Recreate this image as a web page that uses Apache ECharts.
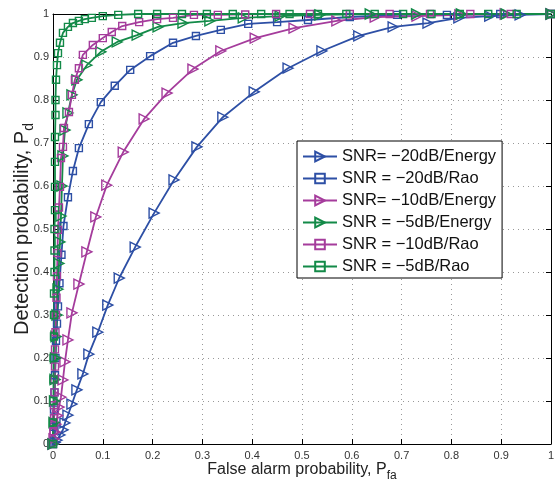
<!DOCTYPE html>
<html><head><meta charset="utf-8">
<script src="https://cdn.jsdelivr.net/npm/echarts@6/dist/echarts.min.js"></script>
<style>html,body{margin:0;padding:0;background:#fff}#c{width:555px;height:486px}</style>
</head><body><div id="c"></div>
<script>
// Tick labels
const xTicks = ['0','0.1','0.2','0.3','0.4','0.5','0.6','0.7','0.8','0.9','1'];
const yTicks = ['0','0.1','0.2','0.3','0.4','0.5','0.6','0.7','0.8','0.9','1'];
const seriesNames = ['SNR= \u221220dB/Energy','SNR = \u221220dB/Rao','SNR= \u221210dB/Energy','SNR = \u22125dB/Energy','SNR = \u221210dB/Rao','SNR = \u22125dB/Rao'];

// -20 dB Energy
const pfaE20 = [0,0.004,0.008,0.014,0.020,0.024,0.030,0.038,0.048,0.060,0.072,0.090,0.110,0.133,0.165,0.203,0.243,0.289,0.341,0.404,0.472,0.540,0.614,0.683,0.753,0.815,0.877,0.938,1.0];
const pdE20  = [0,0.004,0.009,0.021,0.033,0.049,0.067,0.093,0.126,0.163,0.209,0.260,0.323,0.386,0.458,0.537,0.614,0.691,0.760,0.819,0.874,0.914,0.949,0.970,0.979,0.991,0.995,0.998,1.0];
// -20 dB Rao
const pfaR20 = [0,0.001,0.002,0.003,0.004,0.005,0.006,0.008,0.010,0.013,0.017,0.021,0.030,0.040,0.052,0.072,0.096,0.124,0.155,0.195,0.241,0.287,0.337,0.392,0.450,0.512,0.596,0.691,0.791,0.898,1.0];
const pdR20  = [0,0.04,0.08,0.12,0.16,0.20,0.24,0.28,0.32,0.374,0.44,0.507,0.574,0.635,0.688,0.744,0.795,0.833,0.870,0.902,0.933,0.949,0.963,0.977,0.981,0.986,0.993,0.998,0.998,1.0,1.0];
// -10 dB Energy
const pfaE10 = [0,0.002,0.004,0.006,0.009,0.012,0.016,0.020,0.024,0.030,0.038,0.052,0.068,0.086,0.108,0.141,0.183,0.229,0.281,0.337,0.406,0.484,0.570,0.647,0.731,0.817,0.908,1.0];
const pdE10  = [0,0.012,0.028,0.046,0.066,0.086,0.109,0.149,0.191,0.242,0.305,0.372,0.447,0.528,0.602,0.679,0.756,0.816,0.872,0.914,0.944,0.967,0.984,0.993,0.995,0.998,1.0,1.0];
// -5 dB Energy
const pfaE5 = [0,0.002,0.003,0.004,0.005,0.006,0.008,0.010,0.012,0.014,0.016,0.018,0.020,0.024,0.030,0.038,0.048,0.068,0.096,0.129,0.169,0.211,0.261,0.315,0.382,0.456,0.536,0.637,0.73,0.82,0.91,1.0];
const pdE5  = [0,0.05,0.10,0.15,0.20,0.25,0.30,0.36,0.42,0.47,0.53,0.60,0.67,0.73,0.77,0.812,0.847,0.881,0.912,0.935,0.951,0.970,0.979,0.984,0.991,0.995,0.998,1,1,1,1,1];
// -10 dB Rao
const pfaR10 = [0,0.001,0.002,0.002,0.003,0.003,0.004,0.004,0.005,0.006,0.007,0.008,0.009,0.010,0.012,0.014,0.016,0.020,0.022,0.032,0.038,0.044,0.052,0.060,0.080,0.100,0.118,0.139,0.173,0.209,0.241,0.283,0.331,0.386,0.448,0.516,0.596,0.676,0.757,0.838,0.919,1.0];
const pdR10  = [0,0.03,0.06,0.09,0.12,0.15,0.18,0.22,0.26,0.30,0.34,0.39,0.444,0.498,0.55,0.598,0.665,0.691,0.735,0.772,0.812,0.847,0.874,0.905,0.928,0.944,0.958,0.972,0.981,0.988,0.991,0.998,0.998,0.999,1,1,1,1,1,1,1,1];
// -5 dB Rao
const pfaR5 = [0,0,0.001,0.001,0.001,0.002,0.002,0.002,0.003,0.003,0.003,0.004,0.004,0.004,0.004,0.005,0.005,0.006,0.008,0.010,0.014,0.020,0.030,0.040,0.052,0.064,0.078,0.100,0.131,0.171,0.209,0.259,0.309,0.361,0.418,0.475,0.532,0.589,0.646,0.703,0.760,0.817,0.874,0.931,1.0];
const pdR5  = [0,0.05,0.10,0.15,0.20,0.25,0.30,0.35,0.40,0.45,0.50,0.544,0.598,0.656,0.714,0.765,0.80,0.847,0.881,0.909,0.933,0.956,0.970,0.979,0.984,0.988,0.991,0.995,0.998,1,1,1,1,1,1,1,1,1,1,1,1,1,1,1,1];

const BLUE = '#2d4fa5', MAG = '#a53c9c', GREEN = '#138a48';
const FONT = 'Liberation Sans, Arial, sans-serif';

function mk(name, xs, ys, color, tri) {
  return {
    name: name, type: 'line', xAxisIndex: 0, yAxisIndex: 0,
    data: xs.map((x, i) => [x, ys[i]]),
    symbol: tri ? 'triangle' : 'rect',
    symbolSize: tri ? [10, 10] : 7,
    symbolRotate: tri ? -90 : 0,
    showSymbol: true, showAllSymbol: true,
    lineStyle: { color: color, width: 1.8 },
    itemStyle: { color: 'rgba(255,255,255,0)', borderColor: color, borderWidth: 1.4 },
    emphasis: { disabled: true },
    animation: false
  };
}

const chart = echarts.init(document.getElementById('c'), null, { renderer: 'canvas' });
const axisCommon = {
  type: 'value', min: 0, max: 1, interval: 0.1,
  axisLine: { show: true, onZero: false, lineStyle: { color: '#000', width: 1 } },
  axisTick: { show: true, inside: true, length: 5, lineStyle: { color: '#000' } }
};
chart.setOption({
  backgroundColor: '#fff',
  animation: false,
  grid: { left: 53, right: 4, top: 14, bottom: 42, containLabel: false, outerBoundsMode: 'none' },
  legend: {
    data: seriesNames, orient: 'vertical', left: 297, top: 141,
    backgroundColor: '#fff', borderColor: '#000', borderWidth: 1, borderRadius: 0,
    padding: [7, 6, 3, 5], itemWidth: 34, itemHeight: 12, itemGap: 5,
    textStyle: { fontFamily: FONT, fontSize: 16.5, color: '#111' }
  },
  xAxis: [
    Object.assign({}, axisCommon, {
      position: 'bottom',
      name: '{a|False alarm probability, P}{s|fa}',
      nameLocation: 'middle', nameGap: 14, nameMoveOverlap: false,
      nameTextStyle: { rich: {
        a: { fontFamily: FONT, fontSize: 16, color: '#222' },
        s: { fontFamily: FONT, fontSize: 12, color: '#222', padding: [12, 0, 0, 0] }
      } },
      axisLabel: { margin: 6, fontFamily: FONT, fontSize: 11, color: '#333',
        formatter: (v) => xTicks[Math.round(v * 10)] },
      splitLine: { show: true, lineStyle: { color: '#999', type: [1, 4], width: 1 } }
    }),
    Object.assign({}, axisCommon, { position: 'top', axisLabel: { show: false }, splitLine: { show: false } })
  ],
  yAxis: [
    Object.assign({}, axisCommon, {
      position: 'left',
      name: '{a|Detection probability, P}{s|d}',
      nameLocation: 'middle', nameGap: 17, nameRotate: 90, nameMoveOverlap: false,
      nameTextStyle: { rich: {
        a: { fontFamily: FONT, fontSize: 20, color: '#222' },
        s: { fontFamily: FONT, fontSize: 14, color: '#222', padding: [13, 0, 0, 0] }
      } },
      axisLabel: { margin: 4, fontFamily: FONT, fontSize: 11, color: '#333',
        formatter: (v) => yTicks[Math.round(v * 10)] },
      splitLine: { show: true, lineStyle: { color: '#999', type: [1, 4], width: 1 } }
    }),
    Object.assign({}, axisCommon, { position: 'right', axisLabel: { show: false }, splitLine: { show: false } })
  ],
  series: [
    mk(seriesNames[0], pfaE20, pdE20, BLUE, true),
    mk(seriesNames[1], pfaR20, pdR20, BLUE, false),
    mk(seriesNames[2], pfaE10, pdE10, MAG, true),
    mk(seriesNames[3], pfaE5, pdE5, GREEN, true),
    mk(seriesNames[4], pfaR10, pdR10, MAG, false),
    mk(seriesNames[5], pfaR5, pdR5, GREEN, false)
  ]
});
</script></body></html>
